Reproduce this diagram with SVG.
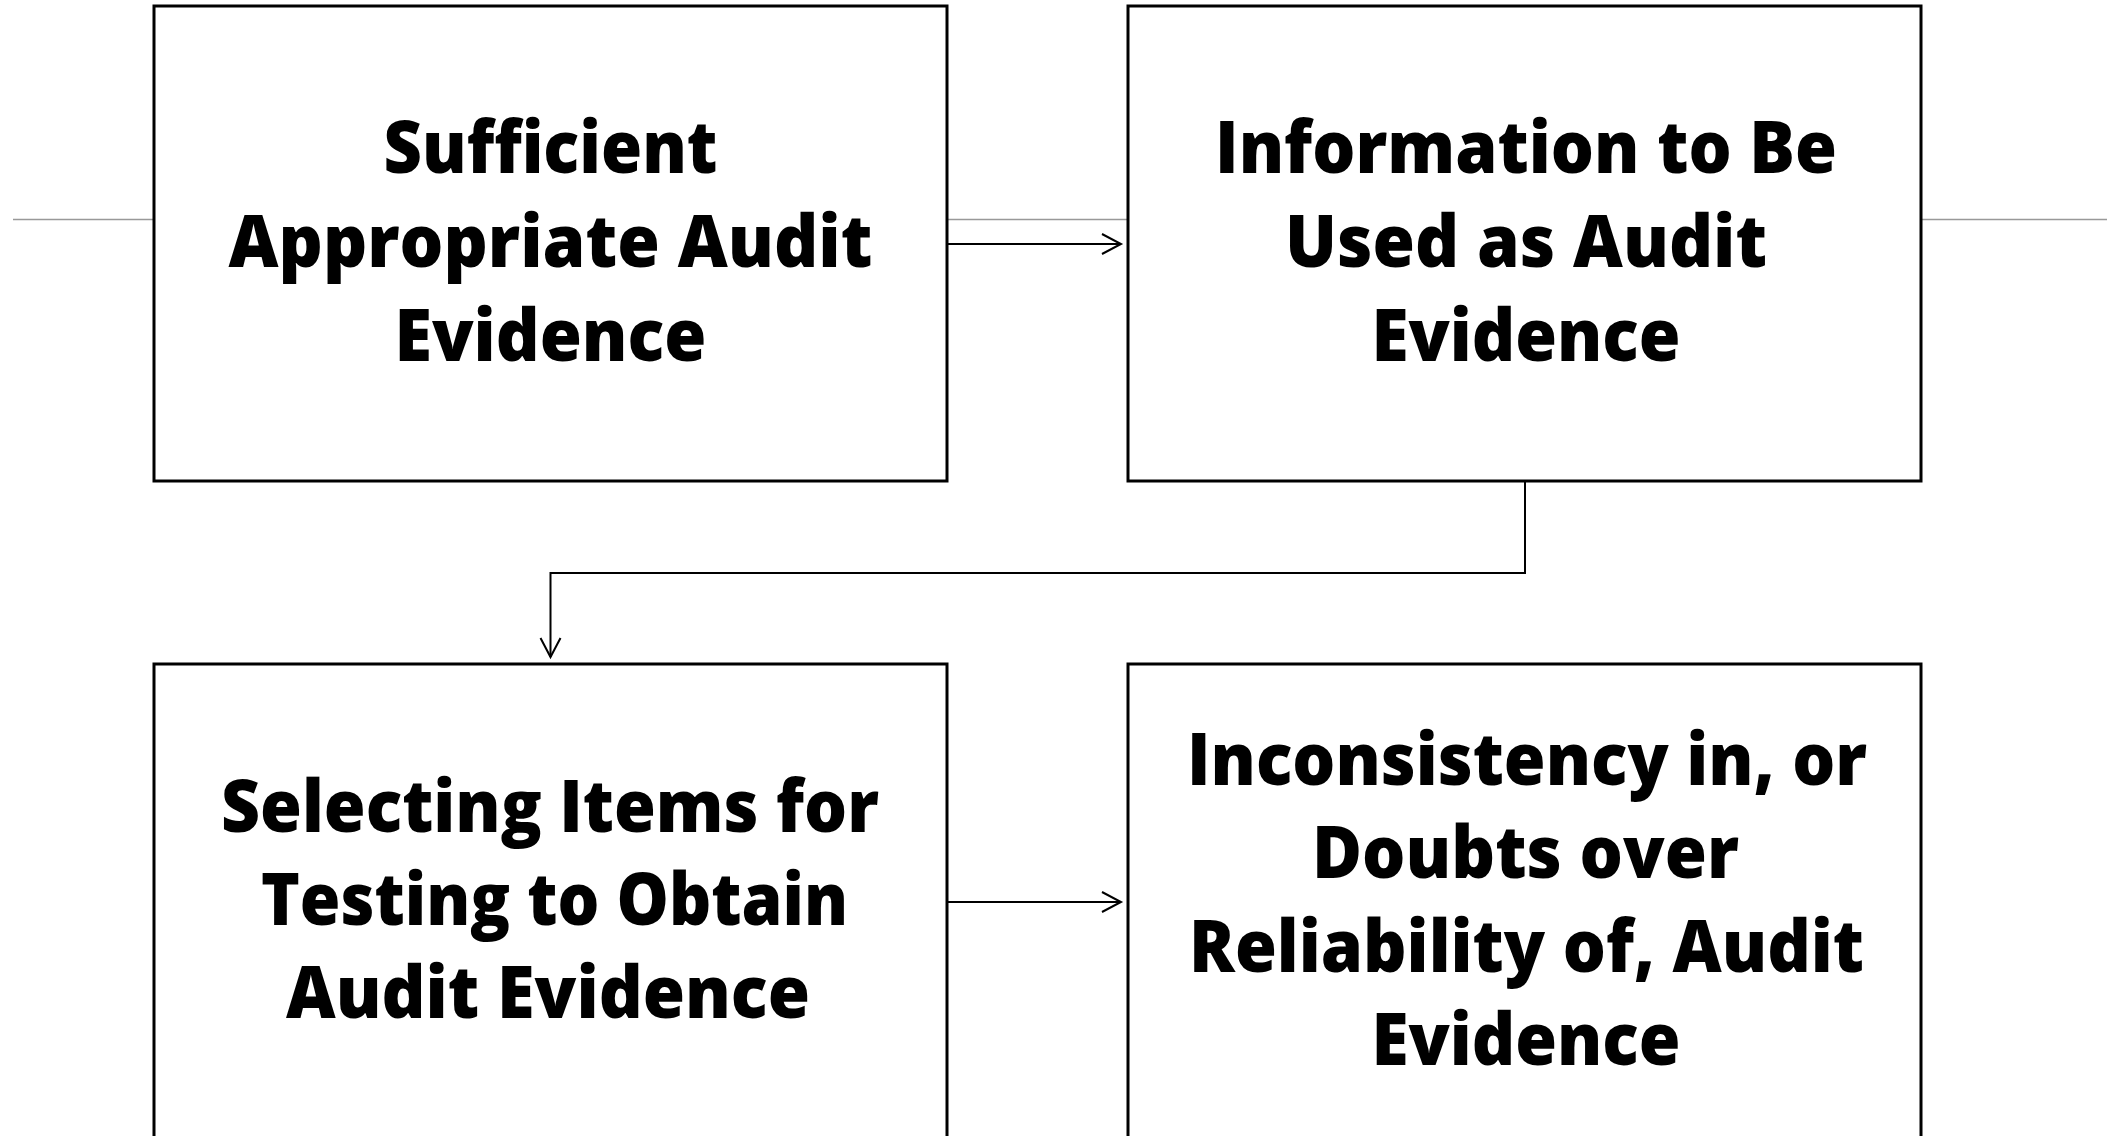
<svg xmlns="http://www.w3.org/2000/svg" width="2107" height="1136" viewBox="0 0 2107 1136">
<style>
.box{fill:#fff;stroke:#000;stroke-width:3}
.t{font-family:"Open Sans","Liberation Sans",sans-serif;font-weight:800;font-size:73px;fill:#000;text-anchor:middle}
.c{fill:none;stroke:#000;stroke-width:2}
.g{stroke:#999;stroke-width:1.5}
</style>
<defs>
<marker id="ah" markerUnits="userSpaceOnUse" markerWidth="24" markerHeight="26" refX="20" refY="11" orient="auto">
<path d="M1,1 L20,11 L1,21" fill="none" stroke="#000" stroke-width="2"/>
</marker>
</defs>
<rect width="2107" height="1136" fill="#fff"/>
<line class="g" x1="13" y1="219.5" x2="2107" y2="219.5"/>
<g id="n1">
<rect class="box" x="154" y="6" width="793" height="475"/>
<text class="t" x="550.5" y="173" textLength="334" lengthAdjust="spacingAndGlyphs">Sufficient</text>
<text class="t" x="550.5" y="267" textLength="644" lengthAdjust="spacingAndGlyphs">Appropriate Audit</text>
<text class="t" x="550.5" y="361" textLength="312" lengthAdjust="spacingAndGlyphs">Evidence</text>
</g>
<g id="n2">
<rect class="box" x="1128" y="6" width="793" height="475"/>
<text class="t" x="1526" y="173" textLength="622" lengthAdjust="spacingAndGlyphs">Information to Be</text>
<text class="t" x="1526" y="267" textLength="482" lengthAdjust="spacingAndGlyphs">Used as Audit</text>
<text class="t" x="1526" y="361" textLength="309" lengthAdjust="spacingAndGlyphs">Evidence</text>
</g>
<g id="n3">
<rect class="box" x="154" y="664" width="793" height="500"/>
<text class="t" x="550" y="832" textLength="658" lengthAdjust="spacingAndGlyphs">Selecting Items for</text>
<text class="t" x="554.5" y="925" textLength="587" lengthAdjust="spacingAndGlyphs">Testing to Obtain</text>
<text class="t" x="548" y="1018" textLength="524" lengthAdjust="spacingAndGlyphs">Audit Evidence</text>
</g>
<g id="n4">
<rect class="box" x="1128" y="664" width="793" height="500"/>
<text class="t" x="1527" y="785" textLength="680" lengthAdjust="spacingAndGlyphs">Inconsistency in, or</text>
<text class="t" x="1525.5" y="878" textLength="427" lengthAdjust="spacingAndGlyphs">Doubts over</text>
<text class="t" x="1526.5" y="972" textLength="675" lengthAdjust="spacingAndGlyphs">Reliability of, Audit</text>
<text class="t" x="1526" y="1065" textLength="309" lengthAdjust="spacingAndGlyphs">Evidence</text>
</g>
<g id="connectors">
<line class="c" x1="947" y1="244" x2="1121" y2="244" marker-end="url(#ah)"/>
<path class="c" d="M1525,482 V573 H550.5 V657" marker-end="url(#ah)"/>
<line class="c" x1="947" y1="902" x2="1121" y2="902" marker-end="url(#ah)"/>
</g>
</svg>
